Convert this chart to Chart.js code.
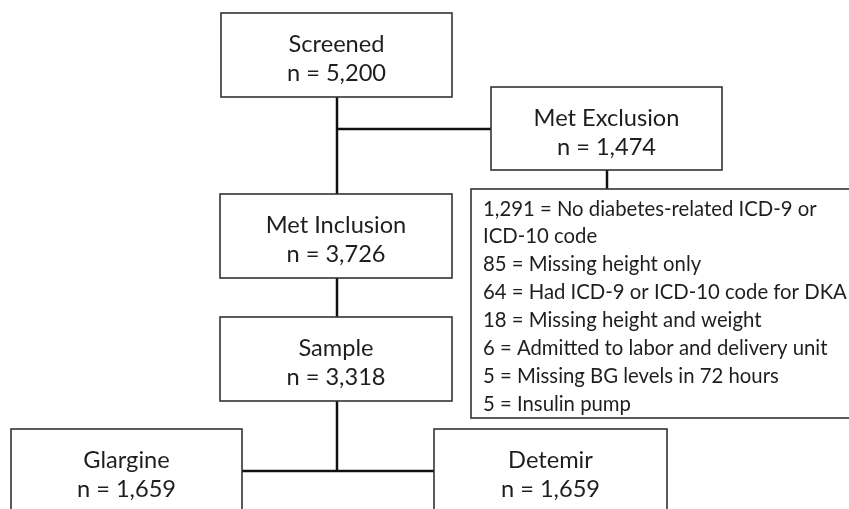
<!DOCTYPE html>
<html>
<head>
<meta charset="utf-8">
<title>Patient selection flowchart</title>
<script src="https://cdn.jsdelivr.net/npm/chart.js@4.4.1/dist/chart.umd.min.js"></script>
<style>
  html, body { margin: 0; padding: 0; background: #fff; }
  #flow { display: block; }
</style>
</head>
<body>
<canvas id="flow" width="849" height="509"></canvas>
<script>
// Flow stages and their counts
const stageLabels = ['Screened', 'Met Exclusion', 'Met Inclusion', 'Sample', 'Glargine', 'Detemir'];
const stageCounts = [5200, 1474, 3726, 3318, 1659, 1659];

// Exclusion reasons
const exclusionCounts = [1291, 85, 64, 18, 6, 5, 5];
const exclusionReasons = [
  'No diabetes-related ICD-9 or ICD-10 code',
  'Missing height only',
  'Had ICD-9 or ICD-10 code for DKA',
  'Missing height and weight',
  'Admitted to labor and delivery unit',
  'Missing BG levels in 72 hours',
  'Insulin pump'
];

// Box layout in chart units (x 0..849, y 0..509 top-down)
const layout = {
  'Screened':      { x0: 221, x1: 452, y0: 13,  y1: 97 },
  'Met Exclusion': { x0: 491, x1: 722, y0: 87,  y1: 170 },
  'Met Inclusion': { x0: 220, x1: 452, y0: 194, y1: 278 },
  'Sample':        { x0: 220, x1: 452, y0: 317, y1: 401 },
  'Glargine':      { x0: 11,  x1: 242, y0: 429, y1: 560 },
  'Detemir':       { x0: 434, x1: 667, y0: 429, y1: 560 }
};
const listBox = { x0: 471, x1: 860, y0: 189, y1: 418 };
const mainX = 337;

const FONT = 'Lato, "Open Sans", sans-serif';
const fmt = n => n.toLocaleString('en-US');

function fitFont(ctx, texts, width) {
  ctx.font = `24px ${FONT}`;
  const widest = Math.max(...texts.map(t => ctx.measureText(t).width));
  return 24 * width / widest;
}

function wrap(ctx, text, maxW) {
  const words = text.split(' ');
  const lines = [];
  let cur = '';
  words.forEach(w => {
    const test = cur ? cur + ' ' + w : w;
    if (ctx.measureText(test).width > maxW && cur) {
      lines.push(cur);
      cur = w;
    } else {
      cur = test;
    }
  });
  if (cur) lines.push(cur);
  return lines;
}

const flowPlugin = {
  id: 'flow',
  afterDraw(chart) {
    const { ctx, scales } = chart;
    const px = v => scales.x.getPixelForValue(v);
    const py = v => scales.y.getPixelForValue(v);

    ctx.save();

    // connectors
    ctx.strokeStyle = '#111';
    ctx.lineWidth = 2.5;
    const seg = (xa, ya, xb, yb) => {
      ctx.beginPath();
      ctx.moveTo(px(xa), py(ya));
      ctx.lineTo(px(xb), py(yb));
      ctx.stroke();
    };
    const L = layout;
    seg(mainX, L['Screened'].y1, mainX, L['Met Inclusion'].y0);
    seg(mainX, 129, L['Met Exclusion'].x0, 129);
    seg(607, L['Met Exclusion'].y1, 607, listBox.y0);
    seg(mainX, L['Met Inclusion'].y1, mainX, L['Sample'].y0);
    seg(mainX, L['Sample'].y1, mainX, 471);
    seg(L['Glargine'].x1, 471, L['Detemir'].x0, 471);

    // boxes
    ctx.strokeStyle = '#333';
    ctx.lineWidth = 1.6;
    const rect = b => {
      const x = px(b.x0), y = py(b.y0);
      const w = px(b.x1) - x, h = py(b.y1) - y;
      ctx.fillStyle = '#fff';
      ctx.fillRect(x, y, w, h);
      ctx.strokeRect(x, y, w, h);
    };

    const boxSize = fitFont(ctx, ['Met Exclusion'], 146);
    ctx.textAlign = 'center';
    ctx.textBaseline = 'alphabetic';
    stageLabels.forEach((name, i) => {
      const b = layout[name];
      rect(b);
      const cx = px((b.x0 + b.x1) / 2);
      ctx.fillStyle = '#1e1e1e';
      ctx.font = `${boxSize}px ${FONT}`;
      ctx.fillText(name, cx, py(b.y0 + 38.5));
      ctx.fillText('n = ' + fmt(stageCounts[i]), cx, py(b.y0 + 68));
    });

    // exclusion list
    rect(listBox);
    const items = exclusionReasons.map((r, i) => fmt(exclusionCounts[i]) + ' = ' + r);
    const listSize = fitFont(ctx, items.slice(1), 364);
    ctx.font = `${listSize}px ${FONT}`;
    ctx.fillStyle = '#1e1e1e';
    ctx.textAlign = 'left';
    let row = 0;
    items.forEach(item => {
      wrap(ctx, item, 368).forEach(line => {
        ctx.fillText(line, px(483), py(215.5 + row * 27.9));
        row++;
      });
    });

    ctx.restore();
  }
};

new Chart(document.getElementById('flow'), {
  type: 'scatter',
  data: { datasets: [] },
  options: {
    responsive: false,
    animation: false,
    layout: { padding: 0 },
    plugins: { legend: { display: false }, tooltip: { enabled: false } },
    scales: {
      x: { type: 'linear', min: 0, max: 849, display: false },
      y: { type: 'linear', min: 0, max: 509, reverse: true, display: false }
    }
  },
  plugins: [flowPlugin]
});
</script>
</body>
</html>
